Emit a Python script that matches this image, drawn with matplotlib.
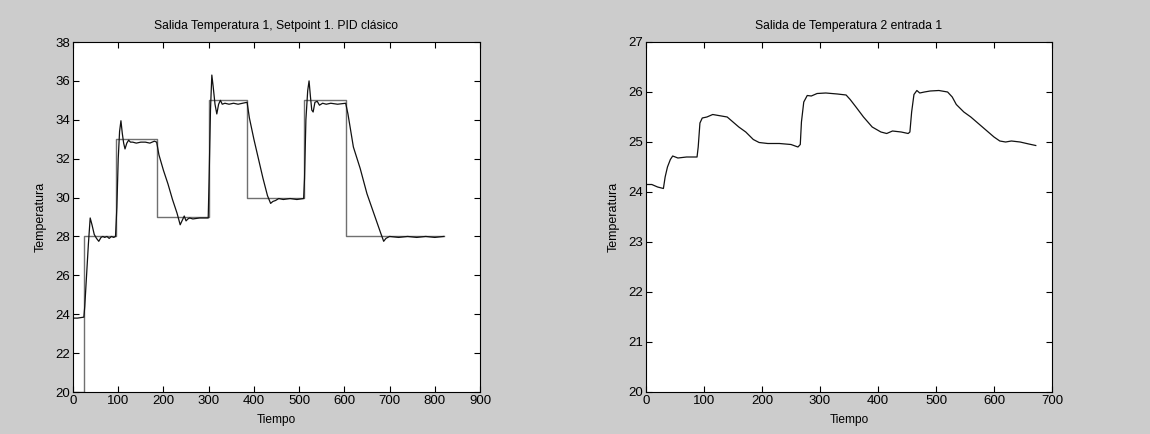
import matplotlib
matplotlib.use("Agg")
import matplotlib.pyplot as plt

# ---- left plot: setpoint (step) and measured output ----
sp_t = [0, 25, 25, 95, 95, 185, 185, 300, 300, 385, 385, 510, 510, 603, 603, 820]
sp_v = [20, 20, 28, 28, 33, 33, 29, 29, 35, 35, 30, 30, 35, 35, 28, 28]

t1_t = [0, 10, 24, 26, 30, 34, 38, 42, 47, 52, 57, 62, 66, 70, 75, 80, 85, 90, 94,
        97, 100, 103, 106, 109, 112, 115, 119, 123, 127, 132, 140, 150, 160, 170, 180, 185,
        190, 200, 210, 220, 230, 237, 242, 246, 250, 254, 258, 265, 280, 299,
        301, 304, 307, 310, 314, 318, 322, 326, 330, 336, 345, 355, 365, 375, 385,
        390, 400, 410, 420, 430, 437, 442, 448, 455, 465, 480, 495, 510,
        512, 515, 519, 522, 525, 528, 531, 535, 540, 545, 552, 560, 570, 585, 603,
        608, 620, 635, 650, 665, 680, 687, 692, 700, 720, 740, 760, 780, 800, 820]
t1_v = [23.8, 23.8, 23.85, 24.4, 26.0, 27.6, 28.95, 28.6, 28.1, 27.9, 27.75, 27.95, 28.0, 27.95, 28.0, 27.9, 28.0, 27.95, 28.0,
        29.5, 32.0, 33.4, 33.95, 33.3, 32.8, 32.5, 32.8, 32.95, 32.85, 32.85, 32.8, 32.85, 32.85, 32.8, 32.9, 32.85,
        32.2, 31.4, 30.7, 29.9, 29.2, 28.6, 28.85, 29.05, 28.8, 28.9, 28.95, 28.9, 28.95, 28.95,
        31.0, 34.5, 36.3, 35.7, 34.8, 34.3, 34.8, 35.0, 34.8, 34.85, 34.8, 34.85, 34.8, 34.85, 34.9,
        34.1, 33.0, 32.0, 31.0, 30.1, 29.7, 29.8, 29.85, 29.95, 29.9, 29.95, 29.9, 29.95,
        31.0, 34.0, 35.5, 36.0, 35.2, 34.5, 34.4, 34.9, 34.95, 34.75, 34.85, 34.8, 34.85, 34.8, 34.85,
        34.3, 32.6, 31.5, 30.2, 29.2, 28.2, 27.75, 27.9, 28.0, 27.95, 28.0, 27.95, 28.0, 27.95, 28.0]

# ---- right plot: temperature 2 ----
t2_t = [0, 10, 20, 30, 33, 37, 42, 46, 55, 70, 88, 90, 93, 97, 105, 115, 125, 140, 150, 160, 172, 185, 195,
        210, 230, 250, 262, 266, 268, 272, 278, 285, 295, 310, 330, 345, 352, 362, 375, 390, 405, 415,
        425, 440, 452, 455, 458, 462, 467, 472, 480, 490, 505, 520, 528, 535, 548, 560, 575, 590,
        600, 610, 620, 630, 645, 660, 672]
t2_v = [24.15, 24.15, 24.1, 24.07, 24.3, 24.5, 24.65, 24.72, 24.68, 24.7, 24.7, 24.9, 25.38, 25.48, 25.5, 25.55, 25.53, 25.5, 25.4, 25.3, 25.2, 25.05, 24.99,
        24.97, 24.97, 24.95, 24.9, 24.95, 25.4, 25.8, 25.93, 25.92, 25.97, 25.98, 25.96, 25.94, 25.85, 25.7, 25.5, 25.3, 25.2, 25.17,
        25.22, 25.2, 25.17, 25.2, 25.6, 25.95, 26.03, 25.98, 26.0, 26.02, 26.03, 26.0, 25.9, 25.75, 25.6, 25.5, 25.35, 25.2,
        25.1, 25.02, 25.0, 25.02, 25.0, 24.96, 24.93]

plt.rcParams['font.family'] = ['Liberation Sans', 'DejaVu Sans']
plt.rcParams['font.size'] = 8.6

fig = plt.figure(figsize=(11.5, 4.34), dpi=100, facecolor='#cccccc')
ax1 = fig.add_axes([73/1150, 1-392/434, 407/1150, 350/434])
ax2 = fig.add_axes([646/1150, 1-392/434, 406/1150, 350/434])

ax1.plot(sp_t, sp_v, color='#707070', lw=1.0)
ax1.plot(t1_t, t1_v, color='#111111', lw=0.9)
ax1.set_xlim(0, 900)
ax1.set_ylim(20, 38)
ax1.set_xticks(range(0, 901, 100))
ax1.set_yticks(range(20, 39, 2))
ax1.set_title("Salida Temperatura 1, Setpoint 1. PID clásico", fontsize=8.7, pad=9)

ax2.plot(t2_t, t2_v, color='#111111', lw=0.9)
ax2.set_xlim(0, 700)
ax2.set_ylim(20, 27)
ax2.set_xticks(range(0, 701, 100))
ax2.set_yticks(range(20, 28))
ax2.set_title("Salida de Temperatura 2 entrada 1", fontsize=8.7, pad=9)

for ax in (ax1, ax2):
    ax.set_facecolor('white')
    ax.set_xlabel("Tiempo", labelpad=5)
    ax.set_ylabel("Temperatura", fontsize=9, labelpad=6)
    ax.tick_params(direction='in', top=True, right=True, length=4, width=0.8,
                   labelsize=9.5, pad=2)
    for s in ax.spines.values():
        s.set_linewidth(0.8)
        s.set_color('black')

fig.savefig("out.png", dpi=100, facecolor=fig.get_facecolor())
